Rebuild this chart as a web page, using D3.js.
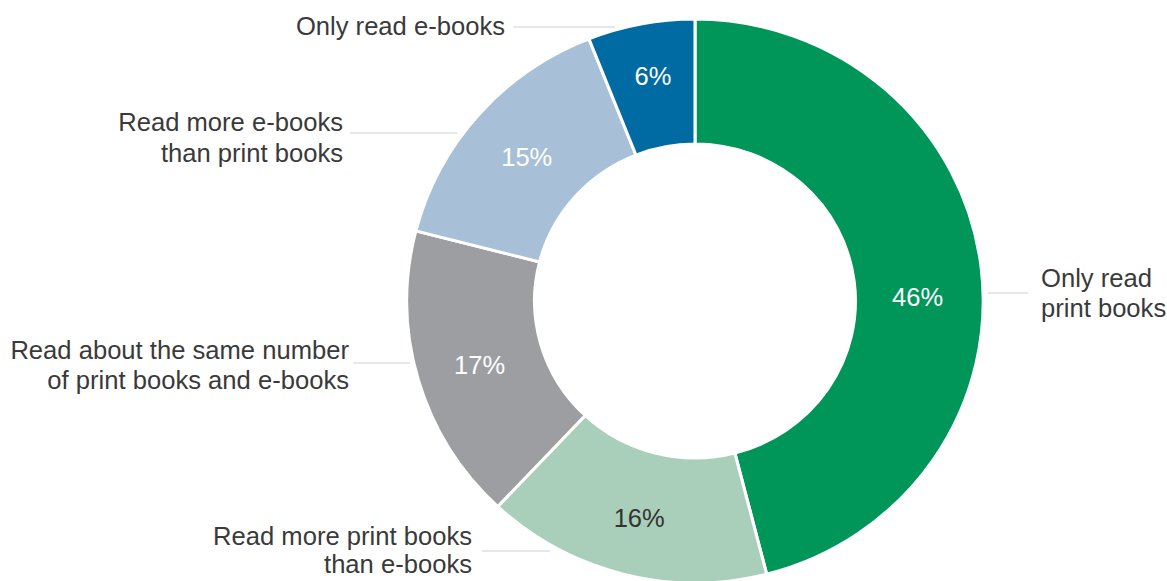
<!DOCTYPE html>
<html>
<head>
<meta charset="utf-8">
<script src="https://cdn.jsdelivr.net/npm/d3@7"></script>
<style>
  body { margin: 0; background: #fff; }
  text { font-family: "Liberation Sans", Arial, sans-serif; }
  .outer-label { fill: #3a3a3a; font-size: 25.6px; }
  .pct { font-size: 25.5px; }
  .leader { stroke: #cfcfcf; stroke-width: 1.2; }
</style>
</head>
<body>
<div id="donut"></div>
<script>
// slices, clockwise from 12 o'clock
const categories = [
  "Only read print books",
  "Read more print books than e-books",
  "Read about the same number of print books and e-books",
  "Read more e-books than print books",
  "Only read e-books"
];
const values = [46, 16, 17, 15, 6];
const labelLines = [
  ["Only read", "print books"],
  ["Read more print books", "than e-books"],
  ["Read about the same number", "of print books and e-books"],
  ["Read more e-books", "than print books"],
  ["Only read e-books"]
];
const sliceColors = ["#00965a", "#a9cfba", "#9d9ea2", "#a7c0d7", "#006aa2"];
const pctColors = ["#ffffff", "#333333", "#ffffff", "#ffffff", "#ffffff"];

// annotation layout (leader line y, line ends, text anchor x)
const labelLayout = [
  { side: "right", lineY: 293, x1: 988, x2: 1028, textX: 1041, baseY: 287, gap: 30 },
  { side: "left",  lineY: 551, x1: 482, x2: 550,  textX: 472,  baseY: 545, gap: 28 },
  { side: "left",  lineY: 363, x1: 353, x2: 410,  textX: 349,  baseY: 359, gap: 30 },
  { side: "left",  lineY: 133, x1: 350, x2: 457,  textX: 343,  baseY: 131, gap: 31 },
  { side: "left",  lineY: 27,  x1: 513, x2: 615,  textX: 505,  baseY: 35,  gap: 0 }
];
const pctShift = [24, 4, 3, 1, -9];

function drawDonut () {
  const svgWidth = 1167;
  const svgHeight = 581;
  const cx = 695;
  const cy = 301;
  const outerR = 282;
  const innerR = 157;
  const stretchX = 1.022;

  const svg = d3.select("#donut")
    .append("svg")
    .attr("width", svgWidth)
    .attr("height", svgHeight);

  const pie = d3.pie()
    .sort(null)
    .value(d => d);

  const arc = d3.arc()
    .innerRadius(innerR)
    .outerRadius(outerR);

  const labelArc = d3.arc()
    .innerRadius((innerR + outerR) / 2)
    .outerRadius((innerR + outerR) / 2);

  const arcs = pie(values);

  const g = svg.append("g")
    .attr("transform", `translate(${cx},${cy}) scale(${stretchX},1)`);

  g.selectAll(".slice")
    .data(arcs)
    .enter()
    .append("path")
    .attr("class", "slice")
    .attr("d", arc)
    .style("fill", (d, i) => sliceColors[i])
    .style("stroke", "#fff")
    .style("stroke-width", 3);

  // percentage labels
  svg.selectAll(".pct")
    .data(arcs)
    .enter()
    .append("text")
    .attr("class", "pct")
    .attr("x", d => cx + labelArc.centroid(d)[0] * stretchX)
    .attr("y", (d, i) => cy + labelArc.centroid(d)[1] + pctShift[i])
    .attr("dy", "0.35em")
    .attr("text-anchor", "middle")
    .style("fill", (d, i) => pctColors[i])
    .text(d => `${d.data}%`);

  // leader lines
  svg.selectAll(".leader")
    .data(labelLayout)
    .enter()
    .append("line")
    .attr("class", "leader")
    .attr("x1", d => d.x1)
    .attr("x2", d => d.x2)
    .attr("y1", d => d.lineY)
    .attr("y2", d => d.lineY);

  // category labels
  labelLayout.forEach((lay, i) => {
    const t = svg.append("text")
      .attr("class", "outer-label")
      .attr("text-anchor", lay.side === "right" ? "start" : "end");
    labelLines[i].forEach((ln, j) => {
      t.append("tspan")
        .attr("x", lay.textX)
        .attr("y", lay.baseY + j * lay.gap)
        .text(ln);
    });
  });
}

drawDonut();
</script>
</body>
</html>
